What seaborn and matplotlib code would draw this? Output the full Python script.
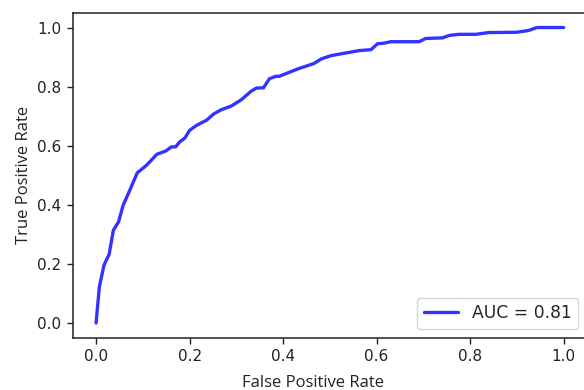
import matplotlib
matplotlib.use("Agg")
import matplotlib.pyplot as plt
import seaborn as sns

# ROC curve points
fpr = [0.0, 0.007, 0.017, 0.028, 0.037, 0.048, 0.058, 0.072, 0.088, 0.108,
       0.130, 0.149, 0.161, 0.170, 0.179, 0.190, 0.200, 0.215, 0.236, 0.252,
       0.268, 0.289, 0.311, 0.332, 0.343, 0.358, 0.371, 0.385, 0.392, 0.414,
       0.435, 0.449, 0.467, 0.482, 0.503, 0.524, 0.542, 0.563, 0.588, 0.602,
       0.616, 0.630, 0.691, 0.705, 0.741, 0.755, 0.776, 0.812, 0.840, 0.900,
       0.925, 0.943, 1.0]
tpr = [0.0, 0.123, 0.196, 0.233, 0.314, 0.342, 0.399, 0.449, 0.508, 0.534,
       0.571, 0.582, 0.596, 0.596, 0.613, 0.626, 0.652, 0.669, 0.686, 0.708,
       0.722, 0.734, 0.756, 0.785, 0.795, 0.796, 0.827, 0.835, 0.835, 0.849,
       0.862, 0.869, 0.879, 0.894, 0.905, 0.911, 0.916, 0.922, 0.925, 0.945,
       0.947, 0.952, 0.952, 0.963, 0.965, 0.973, 0.977, 0.977, 0.983, 0.984,
       0.990, 1.0, 1.0]
auc_label = "AUC = 0.81"

sns.set_style("ticks")
plt.rcParams["font.family"] = ["DejaVu Sans"]

fig = plt.figure(figsize=(5.84, 3.90), dpi=100)
ax = fig.add_axes([0.1245, 0.134, 0.8806, 0.8333])

sns.lineplot(x=fpr, y=tpr, color="blue", alpha=0.8, linewidth=2.4,
             label=auc_label, ax=ax)

ax.set_xlim(-0.05, 1.05)
ax.set_ylim(-0.05, 1.05)
ax.set_xticks([0.0, 0.2, 0.4, 0.6, 0.8, 1.0])
ax.set_yticks([0.0, 0.2, 0.4, 0.6, 0.8, 1.0])
ax.tick_params(labelsize=11, length=4.5, width=1, color="#222222", labelcolor="#222222")
for s in ax.spines.values():
    s.set_color("#222222")
    s.set_linewidth(1.1)

ax.set_xlabel("False Positive Rate", fontsize=12, family="Open Sans", color="#222222")
ax.set_ylabel("True Positive Rate", fontsize=12, family="Open Sans", color="#222222")
ax.xaxis.set_label_coords(0.467, -0.115)

ax.legend(loc="lower right", fontsize=12.3, framealpha=0.8)

fig.savefig("out.png", dpi=100)
